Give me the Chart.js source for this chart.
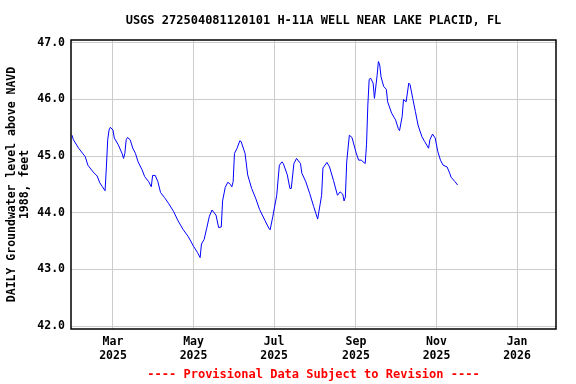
<!DOCTYPE html>
<html>
<head>
<meta charset="utf-8">
<script src="https://cdn.jsdelivr.net/npm/chart.js@4"></script>
<style>
  body { margin: 0; background: #fff; }
  #wrap { width: 576px; height: 384px; }
</style>
</head>
<body>
<div id="wrap"><canvas id="gw"></canvas></div>
<script>
// day of year 2025 (Jan 1 = 0) and water level
const days = [28, 29, 33, 38, 40, 44, 47, 49, 51, 53, 54, 55, 56, 57, 59, 60, 63, 66, 67, 68, 69, 70, 72, 74, 76, 78, 81, 83, 86, 88,
  89, 91, 93, 95, 98, 101, 105, 108, 112, 116, 120, 123, 125, 126, 128, 130, 132, 134, 137, 139, 141, 142, 144, 146, 148, 149, 150,
  151, 153, 155, 156, 159, 161, 164, 167, 170, 174, 177, 178, 180, 183, 185, 187, 188, 191, 193, 194, 196, 198, 201, 202, 205, 208,
  211, 214, 217, 218, 221, 223, 226, 229, 231, 233, 234, 235, 236, 238, 240, 243, 245, 247, 250, 251, 252, 253, 254, 256, 257, 259,
  260, 261, 262, 264, 266, 267, 270, 273, 275, 276, 278, 279, 281, 283, 284, 286, 288, 290, 293, 295, 298, 299, 301, 303, 305, 307,
  309, 312, 314, 315, 318, 320];
const levels = [45.37, 45.29, 45.14, 44.99, 44.84, 44.72, 44.65, 44.53, 44.46, 44.39, 44.81, 45.29, 45.46, 45.51, 45.46, 45.32, 45.20,
  45.04, 44.96, 45.05, 45.29, 45.33, 45.29, 45.14, 45.05, 44.90, 44.76, 44.64, 44.55, 44.46, 44.66, 44.66, 44.55, 44.36, 44.27, 44.17,
  44.02, 43.87, 43.71, 43.58, 43.41, 43.30, 43.21, 43.45, 43.53, 43.73, 43.94, 44.05, 43.96, 43.74, 43.75, 44.21, 44.45, 44.54, 44.50,
  44.46, 44.55, 45.05, 45.14, 45.27, 45.26, 45.05, 44.67, 44.43, 44.26, 44.06, 43.87, 43.73, 43.70, 43.93, 44.31, 44.84, 44.90, 44.87,
  44.67, 44.43, 44.43, 44.87, 44.96, 44.87, 44.70, 44.55, 44.34, 44.11, 43.89, 44.31, 44.79, 44.89, 44.81, 44.57, 44.31, 44.37, 44.33,
  44.21, 44.28, 44.90, 45.37, 45.33, 45.07, 44.93, 44.93, 44.87, 45.20, 45.90, 46.35, 46.38, 46.29, 46.02, 46.42, 46.67, 46.61, 46.40,
  46.23, 46.18, 45.96, 45.76, 45.64, 45.49, 45.45, 45.70, 46.00, 45.96, 46.29, 46.26, 46.02, 45.79, 45.55, 45.34, 45.26, 45.14, 45.29,
  45.39, 45.32, 45.08, 44.93, 44.84, 44.81, 44.70, 44.63, 44.55, 44.49];

const monthTicks = [59, 120, 181, 243, 304, 365];
const monthLabels = [['Mar', '2025'], ['May', '2025'], ['Jul', '2025'], ['Sep', '2025'], ['Nov', '2025'], ['Jan', '2026']];
const levelTicks = [42, 43, 44, 45, 46, 47];

const titleText = 'USGS 272504081120101 H-11A WELL NEAR LAKE PLACID, FL';
const footText = '---- Provisional Data Subject to Revision ----';

const monoFont = { family: '"DejaVu Sans Mono", monospace', size: 11.5, weight: 'bold' };

const frameAndText = {
    id: 'frameAndText',
    afterDraw(chart) {
        const ctx = chart.ctx;
        const a = chart.chartArea;
        const cx = (a.left + a.right) / 2;
        ctx.save();
        ctx.strokeStyle = '#000';
        ctx.lineWidth = 1.5;
        ctx.strokeRect(a.left, a.top, a.right - a.left, a.bottom - a.top);
        ctx.fillStyle = '#000';
        ctx.font = 'bold 12px "DejaVu Sans Mono", monospace';
        ctx.textAlign = 'center';
        ctx.textBaseline = 'middle';
        ctx.fillText(titleText, cx, 21);
        ctx.fillStyle = '#ff0000';
        ctx.fillText(footText, cx, 375);
        ctx.restore();
    }
};

new Chart(document.getElementById('gw').getContext('2d'), {
    type: 'line',
    data: {
        datasets: [{
            data: days.map((d, i) => ({ x: d, y: levels[i] })),
            borderColor: '#0000ff',
            borderWidth: 1,
            pointRadius: 0,
            tension: 0,
            fill: false
        }]
    },
    options: {
        responsive: true,
        maintainAspectRatio: false,
        animation: false,
        layout: { padding: { top: 40, right: 20, bottom: 0, left: 0 } },
        plugins: {
            legend: { display: false },
            tooltip: { enabled: false }
        },
        scales: {
            x: {
                type: 'linear',
                min: 27.2,
                max: 394.5,
                afterBuildTicks: (scale) => { scale.ticks = monthTicks.map(v => ({ value: v })); },
                afterFit: (scale) => { scale.height = 55; },
                border: { display: false },
                grid: { color: '#cccccc', lineWidth: 1, drawTicks: false },
                ticks: {
                    color: '#000',
                    font: monoFont,
                    padding: 6,
                    maxRotation: 0,
                    autoSkip: false,
                    callback: (v) => monthLabels[monthTicks.indexOf(v)]
                }
            },
            y: {
                min: 41.95,
                max: 47.05,
                afterBuildTicks: (scale) => { scale.ticks = levelTicks.map(v => ({ value: v })); },
                afterFit: (scale) => { scale.width = 71; },
                border: { display: false },
                grid: { color: '#cccccc', lineWidth: 1, drawTicks: false },
                ticks: {
                    color: '#000',
                    font: monoFont,
                    padding: 6,
                    callback: (v) => v.toFixed(1)
                },
                title: {
                    display: true,
                    text: ['DAILY Groundwater level above NAVD', '1988, feet'],
                    color: '#000',
                    font: { family: '"DejaVu Sans Mono", monospace', size: 11.5, weight: 'bold', lineHeight: 1.15 },
                    padding: { top: 5, bottom: 0 }
                }
            }
        }
    },
    plugins: [frameAndText]
});
</script>
</body>
</html>
